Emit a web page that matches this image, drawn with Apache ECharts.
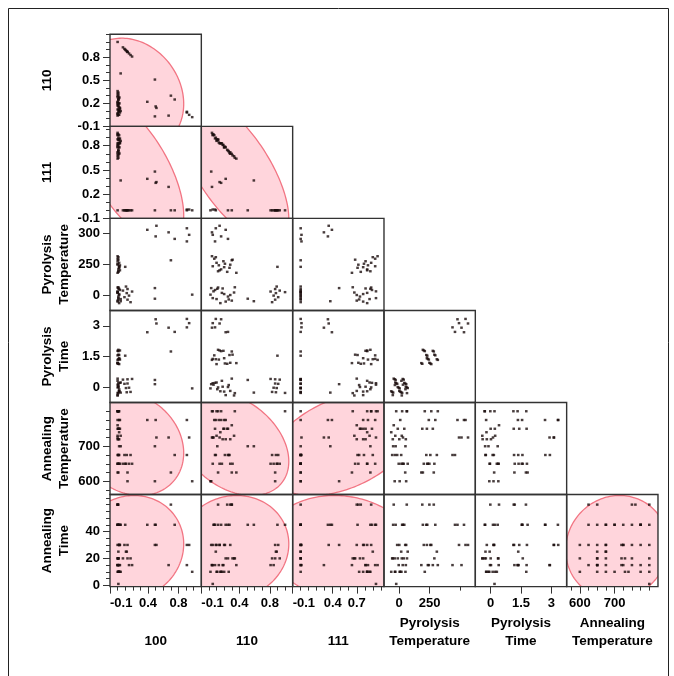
<!DOCTYPE html>
<html>
<head>
<meta charset="utf-8">
<script src="https://cdn.jsdelivr.net/npm/echarts@6/dist/echarts.min.js"></script>
<style>
html,body{margin:0;padding:0;background:#fff}
#chart{width:674px;height:676px}
</style>
</head>
<body>
<div id="chart"></div>
<script>
// ---- Observations (one entry per film) ----
// texture fractions of the (100), (110) and (111) orientations
const tex100 = [0.39,0.50,0.51,0.67,0.75,0.91,0.94,0.91, 0.00,0.49,0.49,0.98,0.04,0.07,0.09,0.11,0.12,0.13,0.13,0.15,0.17,0.19,
  0.01,0.00,0.02,0.00,0.03,0.01,0.02,0.00,0.04,0.01,0.02,0.00, 0.70,0.10,0.00,0.02,0.01,0.00,0.03,0.01,0.00,0.02,0.01,0.00,0.03,0.01,0.02,0.00,
  0.00,0.01,0.02,0.00,0.01,0.00,0.02,0.01];
const tex110 = [0.22,0.16,0.14,0.04,0.25,0.09,0.05,0.08, 1.00,0.51,0.03,0.02,0.59,0.93,0.91,0.89,0.88,0.87,0.87,0.85,0.83,0.81,
  0.05,0.12,0.20,0.30,0.08,0.25,0.15,0.33,0.10,0.18,0.28,0.22, 0.30,0.90,0.04,0.10,0.16,0.07,0.13,0.24,0.19,0.27,0.09,0.21,0.14,0.31,0.05,0.36,
  0.17,0.26,0.11,0.28,0.12,0.06,0.20,0.34];
const tex111 = [0.39,0.34,0.35,0.29,0.00,0.00,0.01,0.01, 0.00,0.00,0.48,0.00,0.37,0.00,0.00,0.00,0.00,0.00,0.00,0.00,0.00,0.00,
  0.94,0.88,0.78,0.70,0.89,0.74,0.83,0.67,0.86,0.81,0.70,0.78, 0.00,0.00,0.96,0.88,0.83,0.93,0.84,0.75,0.81,0.71,0.90,0.79,0.83,0.68,0.93,0.64,
  0.83,0.73,0.87,0.72,0.87,0.94,0.78,0.65];
// process settings
const pyroTemp = [300,300,300,300,300,300,300,300, 0,0,0,0,0,0,0,0,0,0,0,0,0,0, 0,0,0,0,0,0,0,0,0,0,0,0,
  250,250,250,250,250,250,250,250,250,250,250,250,250,250,250,250, 0,0,0,250,250,0,250,0];
const pyroTime = [3,3,3,3,3,3,3,3, 0,0,0,0,0,0,0,0,0,0,0,0,0,0, 0,0,0,0,0,0,0,0,0,0,0,0,
  1.5,1.5,1.5,1.5,1.5,1.5,1.5,1.5,1.5,1.5,1.5,1.5,1.5,1.5,1.5,1.5, 0,0,0,1.5,1.5,0,1.5,0];
const annealTemp = [775,775,725,725,675,775,725,675, 800,700,600,600,700,650,675,650,675,600,625,650,675,650,
  800,800,775,760,750,750,740,730,730,720,720,720, 625,650,800,800,800,775,775,750,750,675,675,675,650,650,650,625,
  650,675,700,650,625,725,750,800];
const annealTime = [45,45,30,15,45,30,30,15, 45,45,30,10,45,20,30,25,25,20,30,15,20,15,
  1,60,10,60,45,20,10,20,10,15,30,20, 60,45,15,30,10,45,15,60,15,45,25,30,30,20,15,15,
  10,10,10,60,45,45,30,20];

// ordinal levels of the pyrolysis settings
const pyroTempLevels = [0, 250, 300];
const pyroTimeLevels = [0, 1.5, 3];

// ---- Axis ticks and labels ----
const ticksTex = [-0.1,0,0.1,0.2,0.3,0.4,0.5,0.6,0.7,0.8,0.9,1,1.1];
const ticks111 = [-0.1,0,0.1,0.2,0.3,0.4,0.5,0.6,0.7,0.8,0.9,1];
const ticksAnnealTemp = [575,600,625,650,675,700,725,750,775,800];
const ticksAnnealTime = [0,5,10,15,20,25,30,35,40,45,50,55,60,65];
const labelsTexX = [-0.1,0.4,0.8];
const labels111X = [-0.1,0.4,0.7];
const labelsTexY = [-0.1,0.2,0.5,0.8];
const labelsAnnealTemp = [600,700];
const labelsAnnealTime = [0,20,40];

const colTitles = ['100','110','111','Pyrolysis\nTemperature','Pyrolysis\nTime','Annealing\nTemperature'];
const rowTitles = ['110','111','Pyrolysis\nTemperature','Pyrolysis\nTime','Annealing\nTemperature','Annealing\nTime'];

// ---- Layout ----
const L = 110, T = 34.3, CW = 91.33, CH = 92.05;
const FONT = 'Liberation Sans, Arial, sans-serif';
const N = tex100.length;

// spread of points around an ordinal level (evenly distributed sequence)
function spread(i, seed) {
  const f = ((i + 1) * (seed ? 0.7548776662 : 0.6180339887) + (seed ? 0.37 : 0.11)) % 1;
  return (f - 0.5) * 0.56;
}

const vars = {
  t100: {get: i => tex100[i], min: -0.1, max: 1.1, ticks: ticksTex, xLabels: labelsTexX, yLabels: labelsTexY},
  t110: {get: i => tex110[i], min: -0.1, max: 1.1, ticks: ticksTex, xLabels: labelsTexX, yLabels: labelsTexY},
  t111: {get: i => tex111[i], min: -0.1, max: 1.04, ticks: ticks111, xLabels: labels111X, yLabels: labelsTexY},
  pT: {get: i => pyroTempLevels.indexOf(pyroTemp[i]) + spread(i, 0), min: -0.5, max: 2.5,
       ticks: [0,1,2], xLabels: [0,1], yLabels: [0,1,2], names: pyroTempLevels, ordinal: true},
  pTime: {get: i => pyroTimeLevels.indexOf(pyroTime[i]) + spread(i, 1), min: -0.5, max: 2.5,
       ticks: [0,1,2], xLabels: [0,1,2], yLabels: [0,1,2], names: pyroTimeLevels, ordinal: true},
  aT: {get: i => annealTemp[i], raw: annealTemp, min: 562, max: 825, ticks: ticksAnnealTemp, xLabels: labelsAnnealTemp, yLabels: labelsAnnealTemp},
  aTime: {get: i => annealTime[i], raw: annealTime, min: -1, max: 67.5, ticks: ticksAnnealTime, xLabels: labelsAnnealTime, yLabels: labelsAnnealTime}
};
vars.t100.raw = tex100; vars.t110.raw = tex110; vars.t111.raw = tex111;

const colVars = ['t100','t110','t111','pT','pTime','aT'];
const rowVars = ['t110','t111','pT','pTime','aT','aTime'];

// 95% bivariate normal density ellipse
const K95 = Math.sqrt(5.991);
function densityEllipse(xs, ys) {
  const n = xs.length;
  const mx = xs.reduce((a, b) => a + b, 0) / n;
  const my = ys.reduce((a, b) => a + b, 0) / n;
  let sxx = 0, syy = 0, sxy = 0;
  for (let i = 0; i < n; i++) {
    sxx += (xs[i] - mx) ** 2; syy += (ys[i] - my) ** 2; sxy += (xs[i] - mx) * (ys[i] - my);
  }
  const sx = Math.sqrt(sxx / (n - 1)), sy = Math.sqrt(syy / (n - 1));
  const r = sxy / Math.sqrt(sxx * syy);
  const pts = [];
  for (let k = 0; k < 180; k++) {
    const t = k / 180 * Math.PI * 2;
    pts.push([mx + K95 * sx * Math.cos(t), my + K95 * sy * (r * Math.cos(t) + Math.sqrt(1 - r * r) * Math.sin(t))]);
  }
  return {center: [mx, my], pts};
}

const labelFont = {fontFamily: FONT, fontSize: 13, fontWeight: 'bold', color: '#000'};
function fmt(v) { return val => v.ordinal ? String(v.names[Math.round(val)]) : String(val); }

function dataAxis(v, g, dim, edge) {
  const labels = dim === 'x' ? v.xLabels : v.yLabels;
  const label = Object.assign({show: edge, customValues: labels, formatter: fmt(v), margin: 10}, labelFont);
  // the lowest texture label sits on the left edge of the cell
  if (dim === 'x' && labels[0] === v.min) label.alignMinLabel = 'left';
  return {
    type: 'value', gridIndex: g, min: v.min, max: v.max,
    position: dim === 'x' ? 'bottom' : 'left',
    show: edge,
    splitLine: {show: false},
    axisLine: {show: false, onZero: false},
    axisTick: {show: edge, customValues: labels, length: 7, lineStyle: {color: '#333', width: 1}},
    axisLabel: label
  };
}
function minorAxis(v, g, dim) {
  const labels = dim === 'x' ? v.xLabels : v.yLabels;
  const minors = v.ticks.filter(t => labels.indexOf(t) < 0);
  return {
    type: 'value', gridIndex: g, min: v.min, max: v.max,
    position: dim === 'x' ? 'bottom' : 'left',
    splitLine: {show: false},
    axisLine: {show: false, onZero: false},
    axisTick: {show: minors.length > 0, customValues: minors.length ? minors : [v.min], length: 4, lineStyle: {color: '#333', width: 1}},
    axisLabel: {show: false}
  };
}

const grids = [], xAxes = [], yAxes = [], series = [];
for (let r = 0; r < 6; r++) {
  for (let c = 0; c <= r; c++) {
    const g = grids.length;
    grids.push({left: L + c * CW, top: T + r * CH, width: CW, height: CH,
      show: true, borderColor: '#333', borderWidth: 1.4, backgroundColor: 'transparent', z: 10});
    const xv = vars[colVars[c]], yv = vars[rowVars[r]];
    const xi = xAxes.length;
    xAxes.push(dataAxis(xv, g, 'x', r === 5));
    if (r === 5) xAxes.push(minorAxis(xv, g, 'x'));
    const yi = yAxes.length;
    yAxes.push(dataAxis(yv, g, 'y', c === 0));
    if (c === 0) yAxes.push(minorAxis(yv, g, 'y'));

    if (!xv.ordinal && !yv.ordinal) {
      const e = densityEllipse(xv.raw, yv.raw);
      series.push({
        type: 'custom', coordinateSystem: 'cartesian2d', xAxisIndex: xi, yAxisIndex: yi,
        data: [e.center], silent: true, clip: true, z: 1, animation: false,
        renderItem: (params, api) => {
          const cs = params.coordSys;
          return {
            type: 'group',
            clipPath: {type: 'rect', shape: {x: cs.x, y: cs.y, width: cs.width, height: cs.height}},
            children: [{
              type: 'polygon',
              shape: {points: e.pts.map(p => api.coord(p))},
              style: {fill: '#ffd5dc', stroke: '#f27583', lineWidth: 1.3}
            }]
          };
        }
      });
    }
    const pts = [];
    for (let i = 0; i < N; i++) pts.push([xv.get(i), yv.get(i)]);
    series.push({
      type: 'scatter', xAxisIndex: xi, yAxisIndex: yi, data: pts,
      symbol: 'rect', symbolSize: [2.6, 2.4], itemStyle: {color: '#1a0c0c'},
      silent: true, z: 3, animation: false
    });
  }
}

// axis titles
const graphics = [];
colTitles.forEach((t, c) => graphics.push({
  type: 'text', x: L + CW * (c + 0.5), y: 650, silent: true,
  style: {text: t, fontFamily: FONT, fontSize: 13.5, fontWeight: 'bold', fill: '#000',
    align: 'center', verticalAlign: 'bottom', lineHeight: 18}
}));
rowTitles.forEach((t, r) => graphics.push({
  type: 'text', x: 38.5, y: T + CH * (r + 0.5), rotation: Math.PI / 2, silent: true,
  style: {text: t, fontFamily: FONT, fontSize: 13.5, fontWeight: 'bold', fill: '#000',
    align: 'center', verticalAlign: 'top', lineHeight: 17}
}));
// outer frame of the report
graphics.push({type: 'rect', silent: true, shape: {x: 8.5, y: 8.5, width: 660, height: 700},
  style: {fill: 'none', stroke: '#222', lineWidth: 1}});

const chart = echarts.init(document.getElementById('chart'), null, {renderer: 'canvas'});
chart.setOption({
  animation: false,
  backgroundColor: '#fff',
  grid: grids,
  xAxis: xAxes,
  yAxis: yAxes,
  series: series,
  graphic: graphics
});
</script>
</body>
</html>
